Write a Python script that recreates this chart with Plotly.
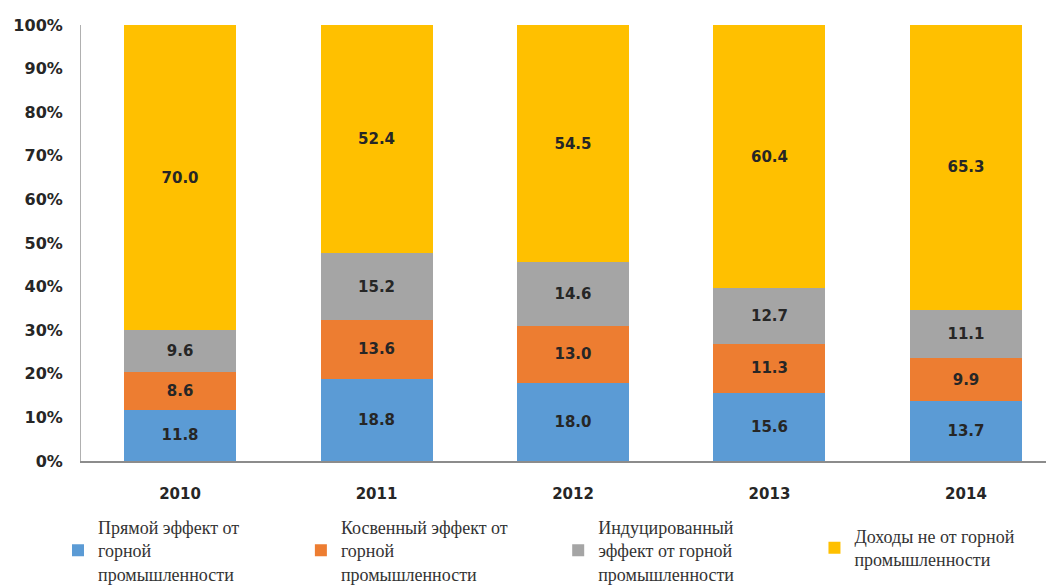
import plotly.graph_objects as go

years = ['2010', '2011', '2012', '2013', '2014']

direct = [11.8, 18.8, 18.0, 15.6, 13.7]
indirect = [8.6, 13.6, 13.0, 11.3, 9.9]
induced = [9.6, 15.2, 14.6, 12.7, 11.1]
non_mining = [70.0, 52.4, 54.5, 60.4, 65.3]

series_names = [
    'Прямой эффект от<br>горной<br>промышленности',
    'Косвенный эффект от<br>горной<br>промышленности',
    'Индуцированный<br>эффект от горной<br>промышленности',
    'Доходы не от горной<br>промышленности',
]
series_colors = ['#5B9BD5', '#ED7D31', '#A5A5A5', '#FFC000']
y_ticks = [0, 10, 20, 30, 40, 50, 60, 70, 80, 90, 100]

# one legend per series so each entry sits where it does in the source
legend_ids = ['legend', 'legend2', 'legend3', 'legend4']
legend_x = [0.0478, 0.280, 0.526, 0.771]
legend_y = [0.137, 0.137, 0.137, 0.121]

fig = go.Figure()
for name, vals, color, lg in zip(series_names, [direct, indirect, induced, non_mining],
                                 series_colors, legend_ids):
    fig.add_trace(go.Bar(
        x=years,
        y=vals,
        name=name,
        legend=lg,
        marker=dict(color=color, line=dict(width=0)),
        text=[f'{v:.1f}' for v in vals],
        texttemplate='%{text}',
        textposition='inside',
        insidetextanchor='middle',
        textangle=0,
        textfont=dict(family='DejaVu Sans', size=15, color='#262626', weight='bold'),
        width=0.57,
    ))

# page body has an 8px margin, so the figure is a bit smaller than the window
fig.update_layout(
    barmode='stack',
    barnorm='percent',
    width=1046,
    height=580,
    margin=dict(l=73, r=0, t=17, b=127, autoexpand=False),
    plot_bgcolor='white',
    paper_bgcolor='white',
    showlegend=True,
)

for lg, lx, ly in zip(legend_ids, legend_x, legend_y):
    fig.update_layout({lg: dict(
        xref='container',
        yref='container',
        x=lx,
        y=ly,
        xanchor='left',
        yanchor='top',
        valign='middle',
        font=dict(family='Liberation Serif', size=18, color='#333333'),
        bgcolor='rgba(0,0,0,0)',
    )})

fig.update_xaxes(
    range=[-0.504, 4.448],
    showline=True,
    linecolor='#8c8c8c',
    linewidth=2,
    showgrid=False,
    ticks='',
    ticklabelstandoff=18,
    tickfont=dict(family='DejaVu Sans', size=15, color='#262626', weight='bold'),
)

fig.update_yaxes(
    range=[0, 100],
    tickvals=y_ticks,
    ticktext=[f'{t}%' for t in y_ticks],
    showline=True,
    linecolor='#b0b0b0',
    linewidth=1,
    showgrid=False,
    zeroline=False,
    ticks='',
    ticklabelstandoff=14,
    tickfont=dict(family='DejaVu Sans', size=16, color='#262626', weight='bold'),
)

fig.write_html('out.html')
